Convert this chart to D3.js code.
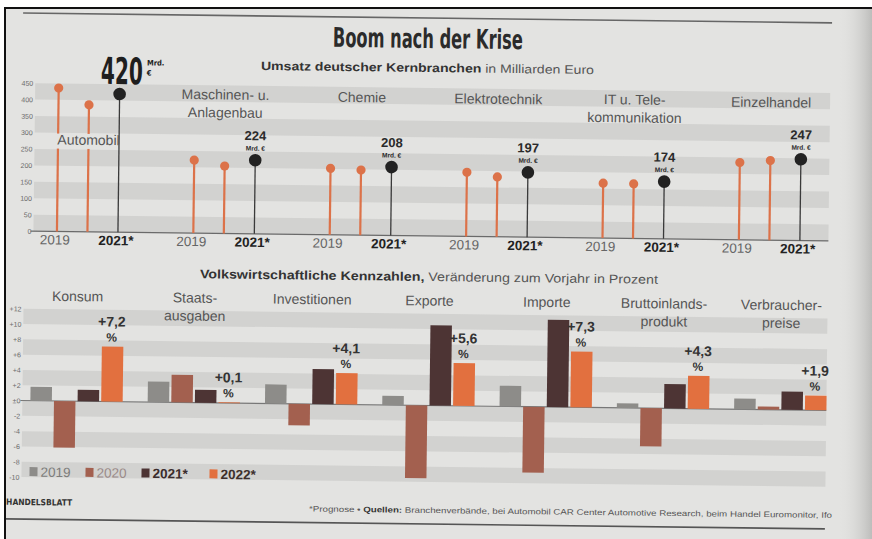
<!DOCTYPE html>
<html><head><meta charset="utf-8">
<script src="https://cdn.jsdelivr.net/npm/d3@7"></script>
<style>
html,body{margin:0;padding:0;background:#fff;}
svg{display:block;}
</style></head>
<body>
<svg id="chart" width="872" height="539"></svg>
<script>
// ---------- DATA ----------
const topCategories = ["Automobil", "Maschinen- u.\nAnlagenbau", "Chemie", "Elektrotechnik", "IT u. Tele-\nkommunikation", "Einzelhandel"];
const topYears = ["2019", "2020", "2021*"];
const umsatz2019 = [436, 222, 202, 195, 167, 235];
const umsatz2020 = [386, 205, 198, 182, 166, 242];
const umsatz2021 = [420, 224, 208, 197, 174, 247];
const topTicks = [0, 50, 100, 150, 200, 250, 300, 350, 400, 450];
const topTickLabels = ["2019", "2021*"];

const kennCategories = ["Konsum", "Staats-\nausgaben", "Investitionen", "Exporte", "Importe", "Bruttoinlands-\nprodukt", "Verbraucher-\npreise"];
const kennYears = ["2019", "2020", "2021*", "2022*"];
const k2019 = [1.8, 2.7, 2.5, 1.2, 2.7, 0.6, 1.4];
const k2020 = [-6.1, 3.6, -2.8, -9.5, -8.6, -5.0, 0.4];
const k2021 = [1.5, 1.7, 4.6, 10.5, 11.4, 3.2, 2.4];
const k2022 = [7.2, 0.1, 4.1, 5.6, 7.3, 4.3, 1.9];
const bottomTicks = [12, 10, 8, 6, 4, 2, 0, -2, -4, -6, -8, -10];

// ---------- STYLE ----------
const PAPER = "#e3e3e1", BAND = "#d2d2d0";
const ORANGE = "#dc7249", DOT_DARK = "#222";
const kennColors = ["#8d8c89", "#a3604f", "#4d3434", "#e2703f"];
const legendText = ["#7d7d7b", "#9a8a88", "#3a2c2c", "#3d302c"];
const SANS = "'Liberation Sans', Arial, Helvetica, sans-serif";
const COND = "'Liberation Sans Narrow', 'DejaVu Sans Condensed', 'Roboto Condensed', sans-serif";

const svg = d3.select("#chart");
const defs = svg.append("defs");
defs.append("clipPath").attr("id", "paperClip").append("rect")
  .attr("x", 5).attr("y", 8).attr("width", 867).attr("height", 531);
const grad = defs.append("linearGradient").attr("id", "shade").attr("x1", 0).attr("x2", 1).attr("y1", 0).attr("y2", 0);
grad.append("stop").attr("offset", "0%").attr("stop-color", PAPER).attr("stop-opacity", 0);
grad.append("stop").attr("offset", "100%").attr("stop-color", "#bdbdbb").attr("stop-opacity", 1);

svg.append("rect").attr("width", 872).attr("height", 539).attr("fill", "#fff");
svg.append("rect").attr("x", 5).attr("y", 8).attr("width", 867).attr("height", 531).attr("fill", PAPER);

const outer = svg.append("g").attr("clip-path", "url(#paperClip)");
const g = outer.append("g").attr("transform", "rotate(0.7 430 270)");
const layerBands = g.append("g");
const layerAxes = g.append("g");
const layerMarks = g.append("g");
const layerText = g.append("g");

// helper: squeeze a text horizontally to a target width
function fitWidth(textSel, x, y, target) {
  const w = textSel.node().getComputedTextLength();
  const s = w > 0 ? target / w : 1;
  textSel.attr("x", 0).attr("y", 0).attr("transform", `translate(${x},${y}) scale(${s},1)`);
}

// rules
layerAxes.append("line").attr("x1", 20).attr("x2", 829).attr("y1", 18).attr("y2", 18).attr("stroke", "#666").attr("stroke-width", 1.6);
layerAxes.append("line").attr("x1", -10).attr("x2", 828).attr("y1", 524).attr("y2", 524).attr("stroke", "#555").attr("stroke-width", 1.6);

// titles
const title = layerText.append("text").attr("text-anchor", "middle")
  .attr("font-family", COND).attr("font-weight", "bold").attr("font-size", 27).attr("fill", "#2b2b2b")
  .text("Boom nach der Krise");
fitWidth(title, 425, 48, 190);

const sub = layerText.append("text").attr("x", 425).attr("y", 72).attr("text-anchor", "middle")
  .attr("font-family", SANS).attr("font-size", 12).attr("textLength", 333).attr("lengthAdjust", "spacingAndGlyphs");
sub.append("tspan").attr("font-weight", "bold").attr("fill", "#333").text("Umsatz deutscher Kernbranchen");
sub.append("tspan").attr("fill", "#555").text(" in Milliarden Euro");

// ---------- TOP CHART ----------
const xTop = d3.scalePoint().domain(topCategories).range([87, 769]);
const xTopInner = d3.scalePoint().domain(topYears).range([-30.5, 30.5]);
const yTop = d3.scaleLinear().domain([0, 450]).range([236, 88]);

const topBands = topTicks.slice(0, -1).map((lo, i) => ({ lo, hi: topTicks[i + 1], dark: i % 2 === 0 }));
layerBands.append("g").selectAll("rect").data(topBands.filter(d => d.dark)).join("rect")
  .attr("x", 33).attr("width", 795)
  .attr("y", d => yTop(d.hi)).attr("height", d => yTop(d.lo) - yTop(d.hi))
  .attr("fill", BAND);

const yAxisTop = layerAxes.append("g").attr("transform", "translate(32,0)")
  .call(d3.axisLeft(yTop).tickValues(topTicks).tickSize(0).tickPadding(1));
yAxisTop.select(".domain").remove();
yAxisTop.selectAll("text").attr("font-family", SANS).attr("font-size", 7).attr("fill", "#6a6a6a");

layerAxes.append("line").attr("x1", 30).attr("x2", 828).attr("y1", yTop(0)).attr("y2", yTop(0))
  .attr("stroke", "#6a6a6a").attr("stroke-width", 1.2);

const topSeries = [umsatz2019, umsatz2020, umsatz2021];
const lolli = [];
topCategories.forEach((c, i) => topYears.forEach((yr, j) => lolli.push({ c, yr, j, v: topSeries[j][i], i })));

layerMarks.append("g").selectAll("line").data(lolli).join("line")
  .attr("x1", d => xTop(d.c) + xTopInner(d.yr)).attr("x2", d => xTop(d.c) + xTopInner(d.yr))
  .attr("y1", yTop(0)).attr("y2", d => yTop(d.v))
  .attr("stroke", d => d.j === 2 ? "#3a3a3a" : ORANGE)
  .attr("stroke-width", d => d.j === 2 ? 1.3 : 2.2);

layerMarks.append("g").selectAll("circle").data(lolli).join("circle")
  .attr("cx", d => xTop(d.c) + xTopInner(d.yr)).attr("cy", d => yTop(d.v))
  .attr("r", d => d.j === 2 ? 6.3 : 4.6)
  .attr("fill", d => d.j === 2 ? DOT_DARK : ORANGE);

// category labels
topCategories.forEach((c, i) => {
  const lines = c.split("\n");
  const cx = xTop(c);
  if (i === 0) {
    layerText.append("rect").attr("x", cx - 36).attr("y", 138).attr("width", 62).attr("height", 15).attr("fill", PAPER);
  }
  lines.forEach((l, j) => {
    const y = i === 0 ? 149 : (lines.length > 1 ? 102 + j * 18 : 103);
    layerText.append("text").attr("x", cx).attr("y", y).attr("text-anchor", "middle")
      .attr("font-family", SANS).attr("font-size", 14).attr("fill", "#555").text(l);
  });
});

// value labels for 2021*
umsatz2021.forEach((v, i) => {
  const cx = xTop(topCategories[i]) + xTopInner("2021*");
  const cy = yTop(v);
  if (i === 0) {
    const big = layerText.append("text")
      .attr("font-family", COND).attr("font-weight", "bold").attr("font-size", 37)
      .attr("fill", "#1e1e1e").text(String(v));
    fitWidth(big, cx - 19, cy - 10, 42);
    layerText.append("text").attr("x", cx + 27).attr("y", cy - 29).attr("font-family", COND).attr("font-weight", "bold")
      .attr("font-size", 7.5).attr("fill", "#222").text("Mrd.");
    layerText.append("text").attr("x", cx + 27).attr("y", cy - 19).attr("font-family", COND).attr("font-weight", "bold")
      .attr("font-size", 7.5).attr("fill", "#222").text("€");
  } else {
    layerText.append("text").attr("x", cx).attr("y", cy - 20).attr("text-anchor", "middle")
      .attr("font-family", SANS).attr("font-weight", "bold").attr("font-size", 13).attr("fill", "#2a2a2a").text(String(v));
    layerText.append("text").attr("x", cx).attr("y", cy - 9.5).attr("text-anchor", "middle")
      .attr("font-family", SANS).attr("font-weight", "bold").attr("font-size", 6.5).attr("fill", "#2a2a2a").text("Mrd. €");
  }
});

// x labels
topCategories.forEach(c => {
  topTickLabels.forEach(yr => {
    layerText.append("text").attr("x", xTop(c) + xTopInner(yr) - 2).attr("y", 249).attr("text-anchor", "middle")
      .attr("font-family", SANS).attr("font-size", 13.5)
      .attr("font-weight", yr === "2019" ? "normal" : "bold")
      .attr("fill", yr === "2019" ? "#666" : "#222").text(yr);
  });
});

// ---------- BOTTOM CHART ----------
const bt = layerText.append("text").attr("x", 429).attr("y", 281).attr("text-anchor", "middle")
  .attr("font-family", SANS).attr("font-size", 12.5).attr("textLength", 458).attr("lengthAdjust", "spacingAndGlyphs");
bt.append("tspan").attr("font-weight", "bold").attr("fill", "#333").text("Volkswirtschaftliche Kennzahlen,");
bt.append("tspan").attr("fill", "#555").text(" Veränderung zum Vorjahr in Prozent");

const xBot = d3.scaleBand().domain(kennCategories).range([32, 32 + 7 * 117.3]);
const xBotInner = d3.scaleBand().domain(kennYears).range([0, 92.3]).paddingInner(0.09);
const yBot = d3.scaleLinear().domain([-10, 12]).range([482, 313.7]);

const botBandTicks = bottomTicks.slice().reverse(); // -10..12
const botBands = botBandTicks.slice(0, -1).map((lo, i) => ({ lo, hi: botBandTicks[i + 1], dark: i % 2 === 0 }));
layerBands.append("g").selectAll("rect").data(botBands.filter(d => d.dark)).join("rect")
  .attr("x", 24).attr("width", 804)
  .attr("y", d => yBot(d.hi)).attr("height", d => yBot(d.lo) - yBot(d.hi))
  .attr("fill", BAND);

const yAxisBot = layerAxes.append("g").attr("transform", "translate(23,0)")
  .call(d3.axisLeft(yBot).tickValues(bottomTicks).tickSize(0).tickPadding(1)
    .tickFormat(v => v > 0 ? "+" + v : (v === 0 ? "±0" : String(v))));
yAxisBot.select(".domain").remove();
yAxisBot.selectAll("text").attr("font-family", SANS).attr("font-size", 7).attr("fill", "#6a6a6a");

layerAxes.append("line").attr("x1", 22).attr("x2", 828).attr("y1", yBot(0)).attr("y2", yBot(0))
  .attr("stroke", "#777").attr("stroke-width", 1.2);

kennCategories.forEach(c => {
  const lines = c.split("\n");
  lines.forEach((l, j) => {
    layerText.append("text").attr("x", xBot(c) + 46).attr("y", 305.5 + j * 18).attr("text-anchor", "middle")
      .attr("font-family", SANS).attr("font-size", 14).attr("fill", "#555").text(l);
  });
});

const kennSeries = [k2019, k2020, k2021, k2022];
const bars = [];
kennCategories.forEach((c, i) => kennYears.forEach((yr, j) => bars.push({ c, yr, j, v: kennSeries[j][i] })));
layerMarks.append("g").selectAll("rect").data(bars).join("rect")
  .attr("x", d => xBot(d.c) + xBotInner(d.yr)).attr("width", xBotInner.bandwidth())
  .attr("y", d => yBot(Math.max(0, d.v))).attr("height", d => Math.abs(yBot(d.v) - yBot(0)))
  .attr("fill", d => kennColors[d.j]);

k2022.forEach((v, i) => {
  const c = kennCategories[i];
  const cx = xBot(c) + xBotInner("2022*") + xBotInner.bandwidth() / 2 - 1;
  const top = yBot(Math.max(0, v));
  layerText.append("text").attr("x", cx).attr("y", top - 20).attr("text-anchor", "middle")
    .attr("font-family", SANS).attr("font-weight", "bold").attr("font-size", 14).attr("fill", "#333")
    .text("+" + v.toFixed(1).replace(".", ","));
  layerText.append("text").attr("x", cx).attr("y", top - 5).attr("text-anchor", "middle")
    .attr("font-family", SANS).attr("font-weight", "bold").attr("font-size", 12).attr("fill", "#333").text("%");
});

// legend
const legX = [32, 88, 144, 212];
kennYears.forEach((yr, j) => {
  layerMarks.append("rect").attr("x", legX[j]).attr("y", 472).attr("width", 8).attr("height", 9).attr("fill", kennColors[j]);
  layerText.append("text").attr("x", legX[j] + 11).attr("y", 481.5)
    .attr("font-family", SANS).attr("font-size", 13.5).attr("font-weight", j >= 2 ? "bold" : "normal")
    .attr("fill", legendText[j]).text(yr);
});

// footer
layerText.append("text").attr("x", 9).attr("y", 510)
  .attr("font-family", COND).attr("font-weight", "bold").attr("font-size", 8.5)
  .attr("textLength", 66).attr("lengthAdjust", "spacingAndGlyphs").attr("fill", "#333").text("HANDELSBLATT");

const src = layerText.append("text").attr("x", 835).attr("y", 513).attr("text-anchor", "end")
  .attr("font-family", SANS).attr("font-size", 8).attr("textLength", 523).attr("lengthAdjust", "spacingAndGlyphs").attr("fill", "#555");
src.append("tspan").text("*Prognose • ");
src.append("tspan").attr("font-weight", "bold").attr("fill", "#333").text("Quellen:");
src.append("tspan").text(" Branchenverbände, bei Automobil CAR Center Automotive Research, beim Handel Euromonitor, Ifo");

// right-side shade and frame
svg.append("rect").attr("x", 838).attr("y", 8).attr("width", 34).attr("height", 531).attr("fill", "url(#shade)");
svg.append("line").attr("x1", 5).attr("x2", 5).attr("y1", 7).attr("y2", 539).attr("stroke", "#111").attr("stroke-width", 2);
svg.append("line").attr("x1", 4).attr("x2", 872).attr("y1", 8).attr("y2", 8).attr("stroke", "#111").attr("stroke-width", 2);
</script>
</body></html>
